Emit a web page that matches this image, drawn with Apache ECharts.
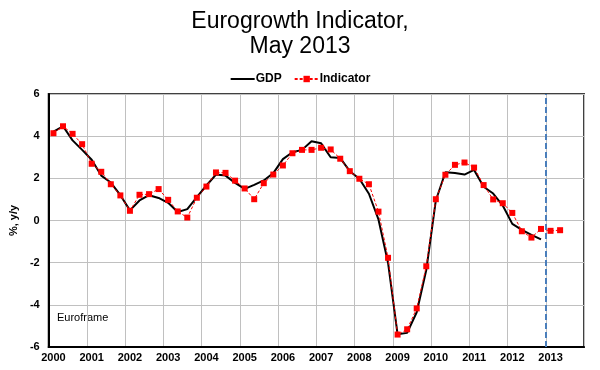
<!DOCTYPE html>
<html><head><meta charset="utf-8">
<script src="https://cdn.jsdelivr.net/npm/echarts@6/dist/echarts.min.js"></script>
<style>html,body{margin:0;padding:0;background:#fff}#c{width:600px;height:370px}</style>
</head><body><div id="c"></div>
<script>
// Quarterly categories 2000Q1 .. 2013Q4
const years = [2000,2001,2002,2003,2004,2005,2006,2007,2008,2009,2010,2011,2012,2013];
const quarters = [];
years.forEach(y => { for (let q = 1; q <= 4; q++) quarters.push(y + 'Q' + q); });

const gdp = [
  4.22, 4.47, 3.80, 3.35,
  2.88, 2.13, 1.80, 1.20,
  0.48, 0.95, 1.20, 1.07,
  0.84, 0.40, 0.54, 1.11,
  1.66, 2.18, 2.13, 1.78,
  1.50, 1.69, 1.90, 2.25,
  2.91, 3.24, 3.35, 3.76,
  3.66, 3.00, 2.96, 2.34,
  1.98, 1.27, 0.05, -2.00,
  -5.40, -5.33, -4.35, -2.35,
  0.95, 2.29, 2.25, 2.18,
  2.40, 1.60, 1.28, 0.71,
  -0.16, -0.44, -0.68, -0.90
];
const indicator = [
  4.14, 4.47, 4.11, 3.62,
  2.69, 2.31, 1.72, 1.19,
  0.46, 1.22, 1.25, 1.49,
  0.98, 0.43, 0.14, 1.08,
  1.61, 2.28, 2.26, 1.89,
  1.52, 1.01, 1.77, 2.18,
  2.61, 3.19, 3.35, 3.35,
  3.45, 3.37, 2.93, 2.34,
  1.98, 1.72, 0.42, -1.77,
  -5.41, -5.16, -4.17, -2.17,
  1.01, 2.17, 2.64, 2.75,
  2.51, 1.68, 1.00, 0.82,
  0.36, -0.51, -0.81, -0.40,
  -0.49, -0.46
];
const forecastStart = 2013;

const FONT = 'Liberation Sans';
const chart = echarts.init(document.getElementById('c'), null, {renderer: 'canvas'});
chart.setOption({
  animation: false,
  backgroundColor: '#ffffff',
  title: {
    text: 'Eurogrowth Indicator,\nMay 2013',
    left: 'center', top: 9, padding: 0,
    textStyle: {fontFamily: FONT, fontSize: 23, fontWeight: 'normal', color: '#000', lineHeight: 25}
  },
  legend: {
    top: 68, left: 'center', itemGap: 12, itemWidth: 24, itemHeight: 8,
    textStyle: {fontFamily: FONT, fontSize: 12, fontWeight: 'bold', color: '#000', padding: [0,0,0,-4]},
    data: [{name: 'GDP', itemStyle: {opacity: 0}}, {name: 'Indicator'}]
  },
  grid: {left: 44, right: 16, top: 94, bottom: 23, show: true, borderColor: '#404040', borderWidth: 2},
  xAxis: [{
    type: 'category', data: quarters, boundaryGap: true,
    axisLine: {onZero: false, lineStyle: {color: '#000', width: 2}},
    axisTick: {show: false},
    axisLabel: {interval: 3, formatter: v => v.slice(0,4), fontFamily: FONT, fontSize: 11, fontWeight: 'bold', color: '#000', margin: 5},
    splitLine: {show: true, interval: 3, lineStyle: {color: '#c0c0c0', width: 1}}
  }, {
    type: 'value', min: 2000, max: 2014, show: false
  }],
  yAxis: {
    type: 'value', min: -6, max: 6, interval: 2,
    name: '%, y/y', nameLocation: 'middle', nameRotate: 90, nameGap: 20,
    nameTextStyle: {fontFamily: FONT, fontSize: 11, fontWeight: 'bold', color: '#000'},
    axisLine: {show: true, onZero: false, lineStyle: {color: '#000', width: 2}},
    axisTick: {show: false},
    axisLabel: {fontFamily: FONT, fontSize: 11, fontWeight: 'bold', color: '#000', margin: 9},
    splitLine: {show: true, lineStyle: {color: '#c0c0c0', width: 1}}
  },
  graphic: [{
    type: 'text', left: 57, top: 312,
    style: {text: 'Euroframe', fontFamily: FONT, fontSize: 11, fill: '#000'}
  }],
  series: [{
    name: 'GDP', type: 'line', data: gdp, xAxisIndex: 0,
    symbol: 'none', showSymbol: false,
    lineStyle: {color: '#000', width: 2}, itemStyle: {color: '#000'}, z: 3
  }, {
    name: 'Indicator', type: 'line', data: indicator, xAxisIndex: 0,
    symbol: 'rect', symbolSize: 6,
    lineStyle: {color: '#ff0000', width: 1, type: [3,2]}, itemStyle: {color: '#ff0000'}, z: 4
  }, {
    name: 'forecast', type: 'line', xAxisIndex: 1, data: [], silent: true,
    markLine: {
      silent: true, symbol: 'none', label: {show: false},
      lineStyle: {color: '#4a7ebb', width: 2, type: [6,3]},
      data: [{xAxis: forecastStart}]
    }
  }]
});
</script></body></html>
